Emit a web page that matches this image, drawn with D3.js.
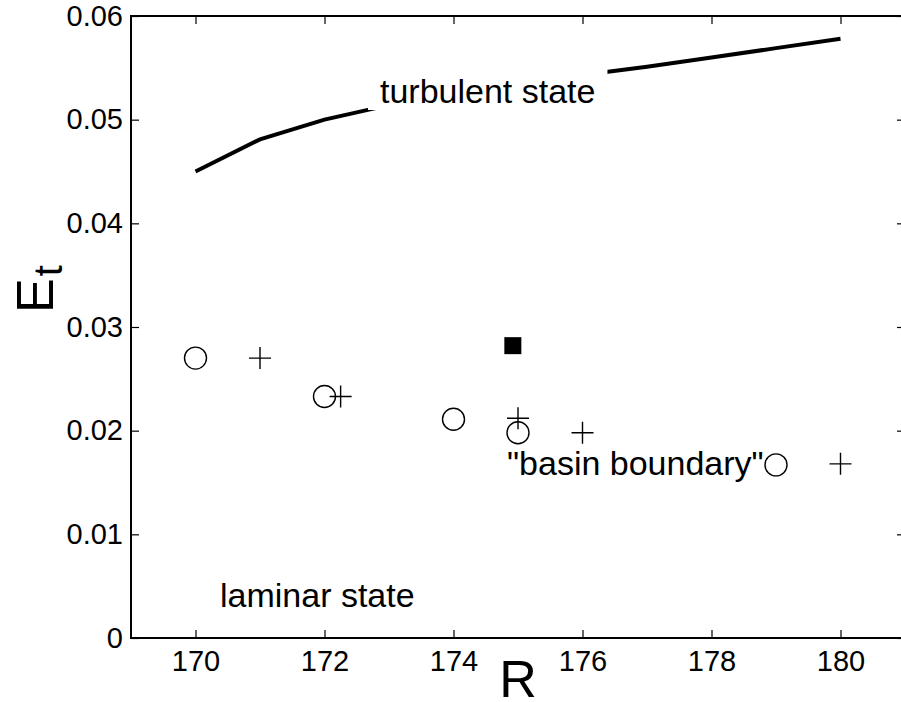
<!DOCTYPE html>
<html>
<head>
<meta charset="utf-8">
<script src="https://cdn.jsdelivr.net/npm/d3@7"></script>
<style>
	body { margin: 0; background: #fff; }
	svg text { font-family: "Liberation Sans", Arial, Helvetica, sans-serif; fill: #000; }
	.axis path, .axis line { stroke: #000; }
</style>
</head>
<body>
<div id="chart"></div>
<script>

// turbulent branch (thick line)
let turbR = [170, 171, 172, 173, 174, 175, 176, 177, 178, 179, 180];
let turbE = [0.0450, 0.0481, 0.0500, 0.0514, 0.0526, 0.0535, 0.0543, 0.0551, 0.0560, 0.0569, 0.0578];

// basin boundary estimates, circles
let circR = [170, 172, 174, 175, 179];
let circE = [0.0270, 0.0233, 0.0211, 0.0198, 0.0167];

// basin boundary estimates, crosses
let plusR = [171, 172.25, 175, 176, 180];
let plusE = [0.0270, 0.0233, 0.0212, 0.0198, 0.0168];

// single filled square
let sqR = [174.92];
let sqE = [0.0282];

let xTicks = [170, 172, 174, 176, 178, 180];
let yTicks = [0, 0.01, 0.02, 0.03, 0.04, 0.05, 0.06];

let margin = {top: 16, right: 0, bottom: 64, left: 131};
let fullW = 901, fullH = 702;
let width = 774;   // right frame sits just past the window edge
let height = fullH - margin.top - margin.bottom;

let svg = d3.select("#chart").append("svg")
	.attr("width", fullW)
	.attr("height", fullH)
	.append("g")
	.attr("transform", "translate(" + margin.left + "," + margin.top + ")");

let x = d3.scaleLinear().domain([169, 181]).range([0, width]);
let y = d3.scaleLinear().domain([0, 0.06]).range([height, 0]);

let fmtY = d => d === 0 ? "0" : d3.format(".2f")(d);

// axes, ticks point inward
let xAxis = d3.axisBottom(x).tickValues(xTicks).tickSize(-8).tickSizeOuter(0).tickPadding(12);
let yAxis = d3.axisLeft(y).tickValues(yTicks).tickSize(-8).tickSizeOuter(0).tickPadding(8).tickFormat(fmtY);

svg.append("g").attr("class", "x-axis axis")
	.attr("transform", "translate(0," + height + ")")
	.call(xAxis);
svg.append("g").attr("class", "y-axis axis").call(yAxis);

// mirror ticks on top and right
svg.append("g").attr("class", "axis")
	.call(d3.axisTop(x).tickValues(xTicks).tickSize(-8).tickSizeOuter(0).tickFormat(""));
svg.append("g").attr("class", "axis")
	.attr("transform", "translate(" + width + ",0)")
	.call(d3.axisRight(y).tickValues(yTicks).tickSize(-8).tickSizeOuter(0).tickFormat(""));

svg.selectAll(".axis .tick line").attr("stroke", "#555").attr("stroke-width", 1.2);
svg.selectAll(".axis .domain").attr("stroke-width", 0);
svg.selectAll(".axis text").style("font-size", "29px");

// frame
svg.append("rect")
	.attr("x", 0).attr("y", 0)
	.attr("width", width).attr("height", height)
	.attr("fill", "none")
	.attr("stroke", "#000")
	.attr("stroke-width", 2);

// turbulent line
let turb = turbR.map((r, i) => ({r: r, e: turbE[i]}));
svg.append("path")
	.datum(turb)
	.attr("fill", "none")
	.attr("stroke", "#000")
	.attr("stroke-width", 4)
	.attr("d", d3.line().x(d => x(d.r)).y(d => y(d.e)));

// label with a white box that hides part of the line
let tBox = svg.append("rect").attr("fill", "#fff");
let tLab = svg.append("text")
	.attr("x", x(172.86))
	.attr("y", 87)
	.style("font-size", "34px")
	.text("turbulent state");
let bb = tLab.node().getBBox();
tBox.attr("x", bb.x - 12).attr("y", bb.y - 26)
	.attr("width", bb.width + 24).attr("height", bb.height + 26);

// circles
svg.selectAll(".circ")
	.data(circR.map((r, i) => ({r: r, e: circE[i]})))
	.enter().append("circle")
	.attr("class", "circ")
	.attr("cx", d => x(d.r))
	.attr("cy", d => y(d.e))
	.attr("r", 11)
	.attr("fill", "none")
	.attr("stroke", "#000")
	.attr("stroke-width", 1.4);

// crosses
svg.selectAll(".plus")
	.data(plusR.map((r, i) => ({r: r, e: plusE[i]})))
	.enter().append("path")
	.attr("class", "plus")
	.attr("d", d => {
		let cx = x(d.r), cy = y(d.e), s = 11;
		return "M" + (cx - s) + "," + cy + "H" + (cx + s) + "M" + cx + "," + (cy - s) + "V" + (cy + s);
	})
	.attr("stroke", "#000")
	.attr("stroke-width", 1.4);

// filled square
svg.selectAll(".sq")
	.data(sqR.map((r, i) => ({r: r, e: sqE[i]})))
	.enter().append("rect")
	.attr("class", "sq")
	.attr("x", d => x(d.r) - 8.5)
	.attr("y", d => y(d.e) - 8.5)
	.attr("width", 17)
	.attr("height", 17)
	.attr("fill", "#000");

// annotations
svg.append("text")
	.attr("x", 376).attr("y", 459)
	.style("font-size", "34px")
	.text("\"basin boundary\"");

svg.append("text")
	.attr("x", 89).attr("y", 591)
	.style("font-size", "34px")
	.text("laminar state");

// axis titles
svg.append("text")
	.attr("x", x(175))
	.attr("y", height + 59)
	.attr("text-anchor", "middle")
	.style("font-size", "52px")
	.text("R");

let yt = svg.append("text")
	.attr("transform", "translate(" + (53 - margin.left) + "," + (313 - margin.top) + ") rotate(-90)")
	.style("font-size", "52px");
yt.append("tspan").text("E");
yt.append("tspan").attr("dy", 9).attr("dx", 2).style("font-size", "40px").text("t");

</script>
</body>
</html>
